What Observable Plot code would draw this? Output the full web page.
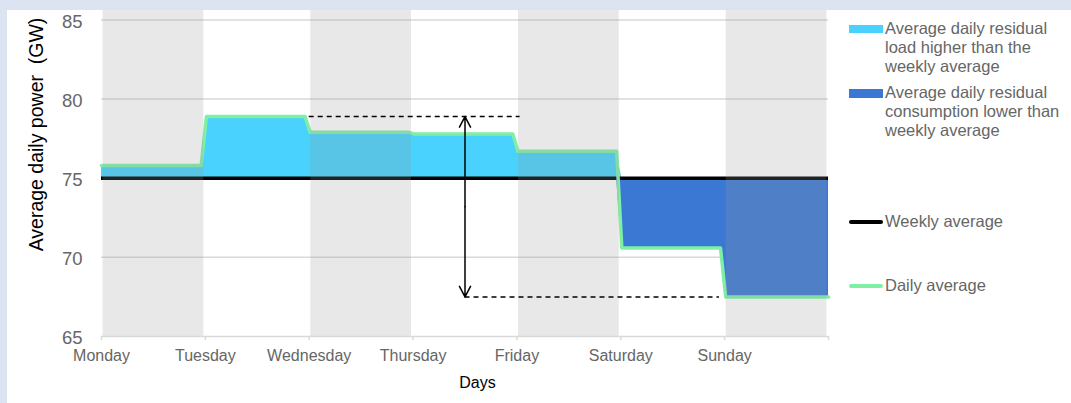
<!DOCTYPE html>
<html>
<head>
<meta charset="utf-8">
<script src="https://cdn.jsdelivr.net/npm/d3@7"></script>
<script src="https://cdn.jsdelivr.net/npm/@observablehq/plot@0.6"></script>
<style>
  html, body { margin: 0; padding: 0; width: 1071px; height: 403px; overflow: hidden; background: #dbe4f0;
    font-family: Arial, "Liberation Sans", sans-serif; }
  #panel { position: absolute; left: 7px; top: 10px; width: 1064px; height: 393px; background: #fff; }
  #chart { position: absolute; left: 0; top: 0; }
  #chart svg text { white-space: pre; }
  .leg { position: absolute; left: 878px; font-size: 16.5px; line-height: 19px; color: #666; white-space: nowrap; }
  .sw { position: absolute; left: 841.5px; width: 34px; }
</style>
</head>
<body>
<div id="panel">
  <div id="chart"></div>
  <div id="legend"></div>
</div>
<script>
// ---- data ----
const days = ["Monday", "Tuesday", "Wednesday", "Thursday", "Friday", "Saturday", "Sunday"];
const dailyAvg = [75.8, 78.9, 77.9, 77.8, 76.7, 70.6, 67.5];
const weeklyAvg = 75.0;
const yTicks = [65, 70, 75, 80, 85];
const legendLabels = [
  "Average daily residual\nload higher than the\nweekly average",
  "Average daily residual\nconsumption lower than\nweekly average",
  "Weekly average",
  "Daily average"
];
const yLabel = "Average daily power  (GW)";
const xLabel = "Days";

// ---- colours ----
const cAbove = "#48d2fd", cBelow = "#3b78d4", cDaily = "#7fefa6", cGrid = "#d9d9d9", cText = "#666";

// step series: each day flat, short sloped transition between days
const n = days.length;
const steps = dailyAvg.flatMap((v, i) => [
  {x: i === 0 ? i : i + 0.01, v},
  {x: i === n - 1 ? i + 1 : i + 0.96, v}
]);
const bandDays = d3.range(n).filter(i => i % 2 === 0);

const maxIdx = dailyAvg.indexOf(d3.max(dailyAvg));
const minIdx = dailyAvg.indexOf(d3.min(dailyAvg));
const maxV = dailyAvg[maxIdx], minV = dailyAvg[minIdx];
const arrowX = 3.5;
const dashes = [
  {y: maxV, x1: maxIdx + 1, x2: arrowX + 0.53},
  {y: minV, x1: arrowX, x2: minIdx - 0.05}
];
const mid = (maxV + minV) / 2;
const arrows = [{x: arrowX, from: mid, to: maxV}, {x: arrowX, from: mid, to: minV}];

const chart = Plot.plot({
  width: 1064, height: 393,
  marginLeft: 94, marginRight: 243, marginTop: 0, marginBottom: 67,
  x: {domain: [0, n]},
  y: {domain: [65, 85.6]},
  style: {fontFamily: 'Arial, "Liberation Sans", sans-serif', background: "transparent", overflow: "visible"},
  marks: [
    Plot.ruleY(yTicks.slice(1), {stroke: cGrid, strokeWidth: 1.5}),
    Plot.areaY(steps, {x: "x", y1: weeklyAvg, y2: d => Math.max(d.v, weeklyAvg), fill: cAbove}),
    Plot.areaY(steps, {x: "x", y1: d => Math.min(d.v, weeklyAvg), y2: weeklyAvg, fill: cBelow}),
    Plot.ruleY([weeklyAvg], {stroke: "#000", strokeWidth: 3.5}),
    Plot.line(steps, {x: "x", y: "v", stroke: cDaily, strokeWidth: 3.5}),
    Plot.rect(bandDays, {x1: i => i + 0.015, x2: i => i + 0.985, fill: "#989898", fillOpacity: 0.224}),
    Plot.ruleY([yTicks[0]], {stroke: cGrid, strokeWidth: 1.5}),
    Plot.axisX(d3.range(n + 1), {tickFormat: i => days[i] ?? "", tickSize: 4, tickPadding: 9,
      stroke: cGrid, strokeWidth: 1.5, fill: cText, fontSize: 16, label: null}),
    Plot.axisY(yTicks, {tickSize: 0, tickPadding: 19, fill: cText, fontSize: 18.5, label: null, dy: 2}),
    Plot.ruleY(dashes, {y: "y", x1: "x1", x2: "x2", stroke: "#000", strokeWidth: 1.5, strokeDasharray: "5,4"}),
    Plot.arrow(arrows, {x1: "x", x2: "x", y1: "from", y2: "to", stroke: "#000", strokeWidth: 1.5,
      headLength: 12, headAngle: 55}),
    Plot.text([yLabel], {text: d => d, frameAnchor: "left", rotate: -90, dx: -65, dy: -39,
      fontSize: 19.5, fill: "#000", textAnchor: "middle"}),
    Plot.text([xLabel], {text: d => d, frameAnchor: "bottom", dx: 12.5, dy: 51, fontSize: 16, fill: "#000"})
  ]
});
document.getElementById("chart").appendChild(chart);

// ---- legend (HTML, right side) ----
const leg = document.getElementById("legend");
const entries = [
  {label: legendLabels[0], top: 9, sw: {top: 15, h: 8.3, color: cAbove, r: 0}},
  {label: legendLabels[1], top: 73, sw: {top: 79.3, h: 8.3, color: cBelow, r: 0}},
  {label: legendLabels[2], top: 201.5, sw: {top: 209.7, h: 4, color: "#000", r: 2}},
  {label: legendLabels[3], top: 265.5, sw: {top: 274, h: 4, color: cDaily, r: 2}}
];
for (const e of entries) {
  const t = document.createElement("div");
  t.className = "leg";
  t.style.top = e.top + "px";
  t.innerHTML = e.label.split("\n").join("<br>");
  leg.appendChild(t);
  const s = document.createElement("div");
  s.className = "sw";
  s.style.top = e.sw.top + "px";
  s.style.height = e.sw.h + "px";
  s.style.background = e.sw.color;
  s.style.borderRadius = e.sw.r + "px";
  leg.appendChild(s);
}
</script>
</body>
</html>
